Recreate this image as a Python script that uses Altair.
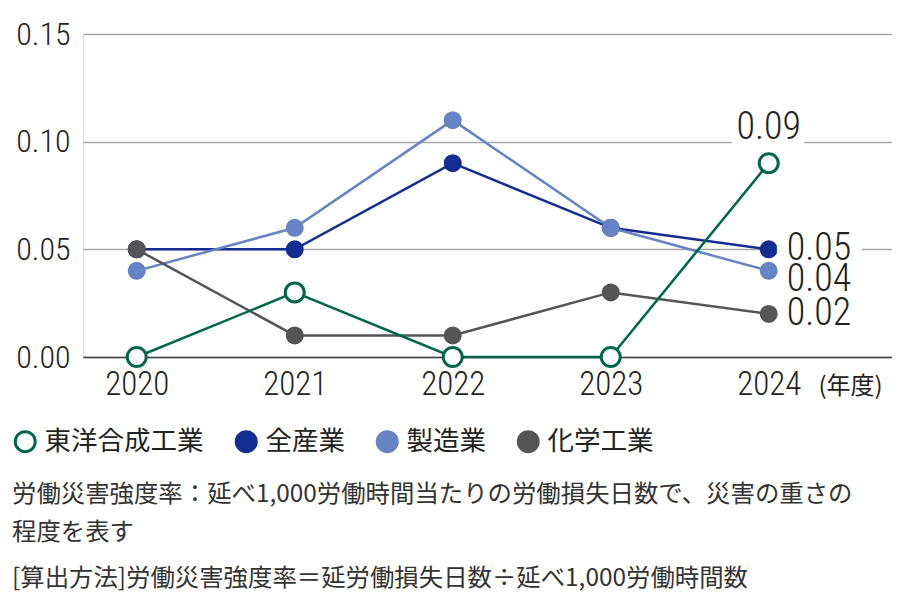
import altair as alt
import pandas as pd

years = [2020, 2021, 2022, 2023, 2024]
series = ["東洋合成工業", "全産業", "製造業", "化学工業"]
colors = ["#00664a", "#132d91", "#6683c4", "#555555"]
fills = ["#ffffff", "#132d91", "#6683c4", "#555555"]

toyo = [0.00, 0.03, 0.00, 0.00, 0.09]
all_ind = [0.05, 0.05, 0.09, 0.06, 0.05]
mfg = [0.04, 0.06, 0.11, 0.06, 0.04]
chem = [0.05, 0.01, 0.01, 0.03, 0.02]

note1 = "労働災害強度率：延べ1,000労働時間当たりの労働損失日数で、災害の重さの"
note2 = "程度を表す"
note3 = "[算出方法]労働災害強度率＝延労働損失日数÷延べ1,000労働時間数"

# draw order: navy, light blue, gray, green on top
order = [1, 2, 3, 0]
values = [toyo, all_ind, mfg, chem]
rows = []
for i in order:
    for y, v in zip(years, values[i]):
        rows.append({"year": y, "value": v, "series": series[i]})
df = pd.DataFrame(rows)

num_font = "Roboto Condensed, Liberation Sans Narrow, Roboto, sans-serif"
jp_font = "Noto Sans CJK JP"

legend = alt.Legend(
    title=None, orient="none", legendX=-71, legendY=394, direction="horizontal",
    symbolType="circle", symbolSize=400, symbolStrokeWidth=3, labelFontSize=26.5,
    labelFont=jp_font, labelColor="#222", columnPadding=26, labelOffset=6,
    padding=0, symbolOpacity=1,
)
stroke_scale = alt.Scale(domain=series, range=colors)
fill_scale = alt.Scale(domain=series, range=fills)

x = alt.X(
    "year:Q",
    scale=alt.Scale(domain=[2019.66, 2024.78], nice=False, zero=False),
    axis=alt.Axis(
        values=years, format="d", labelFontSize=33, labelFont=num_font,
        labelFontWeight=300, labelColor="#222", ticks=False, grid=False,
        domainColor="#444", domainWidth=1.5, labelPadding=11, title="(年度)",
        titleFont=jp_font, titleFontSize=24, titleFontWeight="normal",
        titleColor="#222", titleX=735, titleY=29, titleAlign="left",
        titleBaseline="middle",
    ),
)
y = alt.Y(
    "value:Q",
    scale=alt.Scale(domain=[0, 0.15], nice=False),
    axis=alt.Axis(
        values=[0, 0.05, 0.10, 0.15], format=".2f", labelFontSize=32,
        labelFont=num_font, labelFontWeight=300, labelColor="#222",
        ticks=False, domain=False, gridColor="#a6a6a6", gridWidth=1.5,
        labelPadding=13, title=None,
    ),
)

base = alt.Chart(df).encode(x=x, y=y)

lines = base.mark_line(strokeWidth=2.5).encode(
    stroke=alt.Stroke("series:N", scale=stroke_scale, legend=legend),
    detail="series:N",
)
dots = base.mark_point(filled=True, size=256, opacity=1).encode(
    stroke=alt.Stroke("series:N", scale=stroke_scale, legend=legend),
    fill=alt.Fill("series:N", scale=fill_scale, legend=legend),
).transform_filter(alt.datum.series != series[0])
rings = base.mark_point(size=361, strokeWidth=3, opacity=1).encode(
    stroke=alt.Stroke("series:N", scale=stroke_scale, legend=legend),
    fill=alt.Fill("series:N", scale=fill_scale, legend=legend),
).transform_filter(alt.datum.series == series[0])

last = base.transform_filter(alt.datum.year == years[-1])
text_kw = dict(font=num_font, fontSize=38, fontWeight=300, color="#222",
               baseline="middle")

gap_right = last.transform_filter(alt.datum.series == series[1]).mark_text(
    align="left", dx=18, stroke="white", strokeWidth=24, **text_kw
).encode(text=alt.Text("value:Q", format=".2f"))
gap_top = last.transform_filter(alt.datum.series == series[0]).mark_text(
    align="center", dy=-35, stroke="white", strokeWidth=22, **text_kw
).encode(text=alt.Text("value:Q", format=".2f"))

lab_right = last.transform_filter(
    (alt.datum.series == series[1]) | (alt.datum.series == series[3])
).mark_text(align="left", dx=18, **text_kw).encode(text=alt.Text("value:Q", format=".2f"))
lab_mfg = last.transform_filter(alt.datum.series == series[2]).mark_text(
    align="left", dx=18, dy=9, **text_kw
).encode(text=alt.Text("value:Q", format=".2f"))
lab_top = last.transform_filter(alt.datum.series == series[0]).mark_text(
    align="center", dy=-35, **text_kw
).encode(text=alt.Text("value:Q", format=".2f"))

chart = alt.layer(
    lines, dots, rings, gap_right, gap_top, lab_right, lab_mfg, lab_top
).properties(
    width=809,
    height=323,
    autosize=alt.AutoSizeParams(type="none"),
    padding={"left": 75, "top": 26, "right": 0, "bottom": 238},
    title=alt.Title(
        text=[note1, note2], subtitle=[note3], orient="bottom", anchor="start",
        font=jp_font, fontSize=24.4, fontWeight="normal", color="#333",
        lineHeight=38, subtitleFont=jp_font, subtitleFontSize=24.4,
        subtitleColor="#333", subtitlePadding=22, offset=25,
    ),
).configure_view(stroke=None).configure(background="white")

chart.save("out.html", embed_options={"renderer": "svg", "actions": False})
